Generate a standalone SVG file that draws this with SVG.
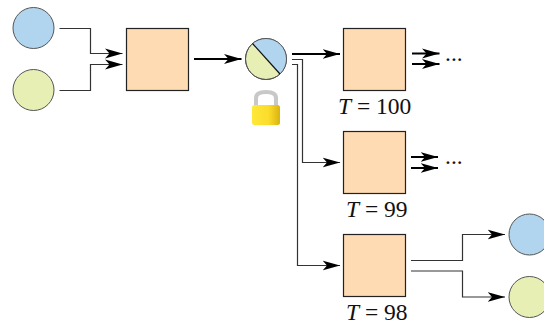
<svg xmlns="http://www.w3.org/2000/svg" width="544" height="323" viewBox="0 0 544 323">
<defs>
<marker id="a" markerUnits="userSpaceOnUse" markerWidth="20" markerHeight="12" refX="17.500" refY="6" orient="auto"><path d="M0 1L17.500 6L0 11L4.500 6Z" fill="#000"/></marker>
<linearGradient id="g" x1="0" x2="1" y1="0" y2="0"><stop offset="0" stop-color="#ffe83a"/><stop offset=".6" stop-color="#fbdc2a"/><stop offset="1" stop-color="#d9b310"/></linearGradient>
</defs>
<style>
.b{fill:#b1d5ee;stroke:#555;stroke-width:1}
.y{fill:#e8efb5;stroke:#555;stroke-width:1}
.s{fill:#fedbb2;stroke:#222;stroke-width:1.2}
.c{fill:none;stroke:#333;stroke-width:1.2}
.k{fill:none;stroke:#000;stroke-width:2}
text{font-family:"Liberation Serif","Times New Roman",serif;font-size:23.500px;fill:#111}
</style>
<g id="connectors">
<path class="c" d="M59.500 28.500H90.500V53.500H122.500" marker-end="url(#a)"/>
<path class="c" d="M59.500 90.500H90.500V64.500H122.500" marker-end="url(#a)"/>
<path class="k" d="M194 59H241.500" marker-end="url(#a)"/>
<path class="k" d="M292 54H340" marker-end="url(#a)"/>
<path class="c" d="M292 59.500H302.500V162.500H340" marker-end="url(#a)"/>
<path class="c" d="M292 64.500H297.500V265.500H340" marker-end="url(#a)"/>
<path class="k" d="M412 53.500H439.500" marker-end="url(#a)"/>
<path class="k" d="M412 64H439.500" marker-end="url(#a)"/>
<path class="k" d="M411 157H438" marker-end="url(#a)"/>
<path class="k" d="M411 168H438" marker-end="url(#a)"/>
<path class="c" d="M411 260.500H462.500V234.500H505" marker-end="url(#a)"/>
<path class="c" d="M411 271H462.500V297H505" marker-end="url(#a)"/>
</g>
<g id="in-blue"><circle class="b" cx="33.500" cy="28" r="20.500"/></g>
<g id="in-green"><circle class="y" cx="33.500" cy="90" r="20.500"/></g>
<g id="box-1"><rect class="s" x="126.500" y="28.500" width="62" height="62"/></g>
<g id="mixed">
<circle class="y" cx="266" cy="59" r="20.500"/>
<path d="M252.500 43.500A20.500 20.500 0 0 1 280 74Z" fill="#b1d5ee"/>
<circle cx="266" cy="59" r="20.500" fill="none" stroke="#555"/>
<path d="M252.500 43.500L280 74" stroke="#111" stroke-width="1.200"/>
</g>
<g id="lock">
<path d="M256 106V98Q256 92 266 92Q276 92 276 98V106" fill="none" stroke="#c8c8c8" stroke-width="4"/>
<rect x="252" y="105" width="28" height="20" rx="2.500" fill="url(#g)"/>
</g>
<g id="box-100"><rect class="s" x="343.500" y="28.500" width="62" height="62"/><text x="338" y="113.500"><tspan font-style="italic">T</tspan> = 100</text><text x="445" y="61" font-size="20">...</text></g>
<g id="box-99"><rect class="s" x="343.500" y="131.500" width="62" height="62"/><text x="346" y="216.500"><tspan font-style="italic">T</tspan> = 99</text><text x="445" y="164" font-size="20">...</text></g>
<g id="box-98"><rect class="s" x="343.500" y="234.500" width="62" height="62"/><text x="346" y="319.500"><tspan font-style="italic">T</tspan> = 98</text></g>
<g id="out-blue"><circle class="b" cx="529.500" cy="234.500" r="20.500"/></g>
<g id="out-green"><circle class="y" cx="529.500" cy="297" r="20.500"/></g>
</svg>
